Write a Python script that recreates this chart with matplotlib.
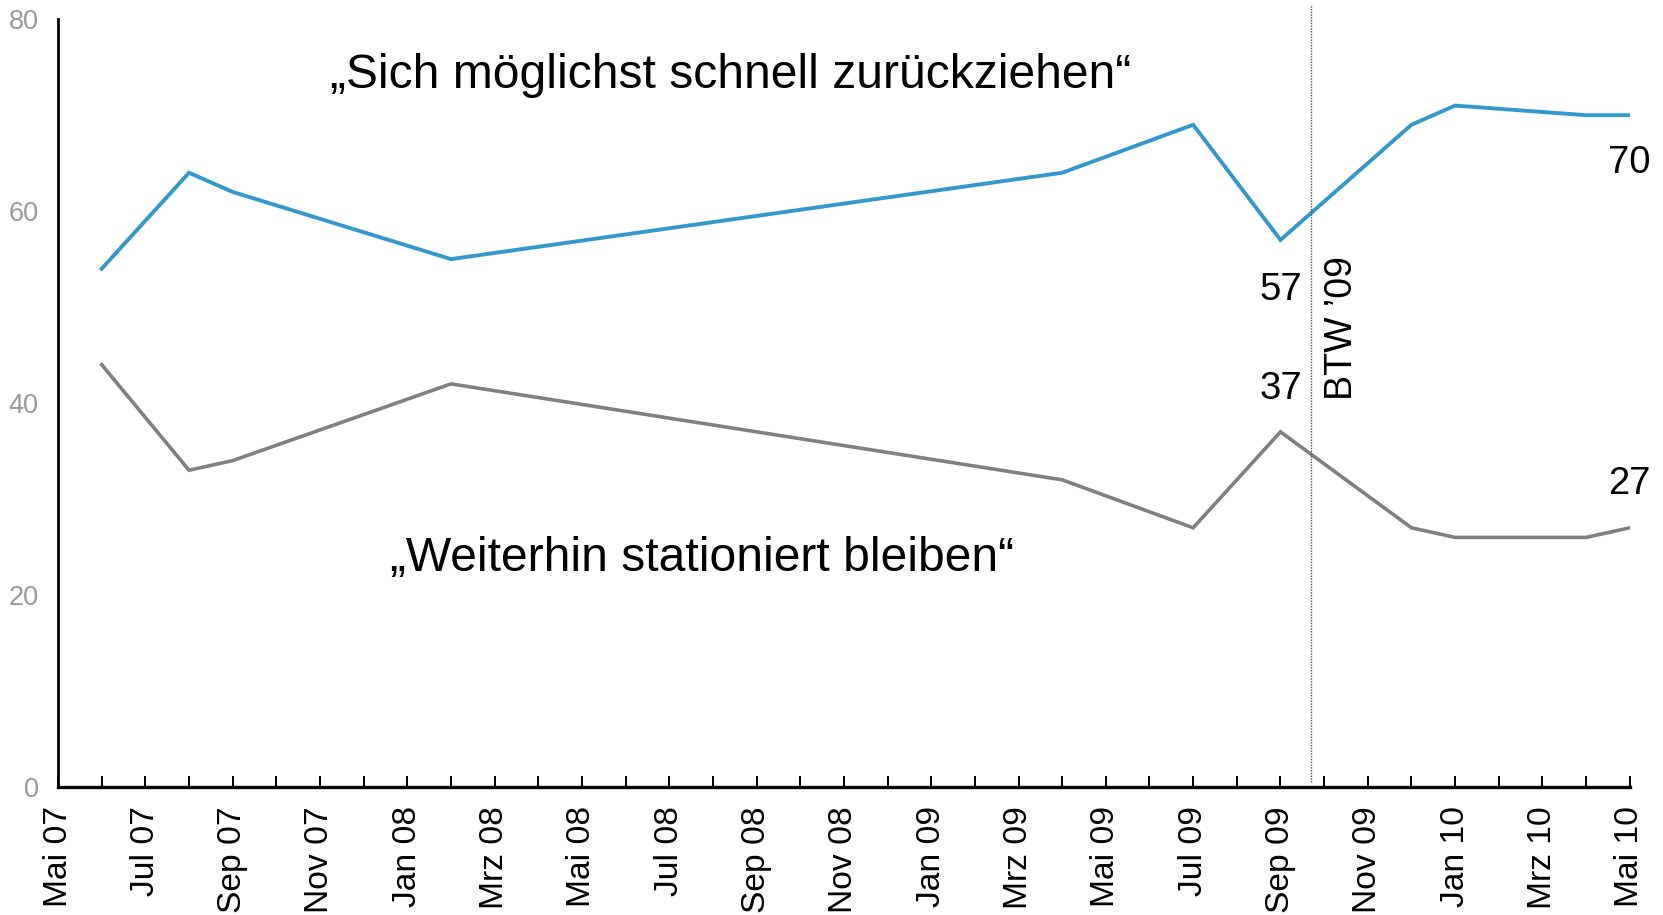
import matplotlib
matplotlib.use("Agg")
import matplotlib.pyplot as plt

plt.rcParams["font.family"] = ["Liberation Sans", "DejaVu Sans"]

# survey dates (year-month) and shares in percent
survey_dates = ["2007-06", "2007-08", "2007-09", "2008-02", "2009-04", "2009-07",
                "2009-09", "2009-12", "2010-01", "2010-04", "2010-05"]
withdraw = [54, 64, 62, 55, 64, 69, 57, 69, 71, 70, 70]
stay = [44, 33, 34, 42, 32, 27, 37, 27, 26, 26, 27]

month_names = ["Jan", "Feb", "Mrz", "Apr", "Mai", "Jun", "Jul", "Aug", "Sep", "Okt", "Nov", "Dez"]
start_year, start_month = 2007, 5
n_months = 36
btw_pos = 28.7  # Bundestagswahl 2009


def month_index(s):
    y, m = map(int, s.split("-"))
    return (y - start_year) * 12 + m - start_month


x = [month_index(d) for d in survey_dates]

tick_pos = list(range(n_months + 1))
tick_labels = []
for i in tick_pos:
    m = (start_month - 1 + i) % 12
    y = start_year + (start_month - 1 + i) // 12
    tick_labels.append(f"{month_names[m]} {y % 100:02d}")

fig = plt.figure(figsize=(16.63, 9.15), dpi=100)
ax = fig.add_axes([0.0349, 0.140, 0.980 - 0.0349, 0.979 - 0.140])

blue = "#3399cc"
grey = "#808080"
ax.plot(x, withdraw, color=blue, lw=2.8, solid_joinstyle="miter")
ax.plot(x, stay, color=grey, lw=2.6, solid_joinstyle="miter")

ax.set_xlim(0, n_months)
ax.set_ylim(0, 80)
ax.set_yticks([0, 20, 40, 60, 80])
ax.tick_params(axis="y", length=0, pad=14, labelsize=19.5, labelcolor="#999999")

ax.set_xticks(tick_pos[::2])
ax.set_xticklabels(tick_labels[::2], rotation=90, fontsize=24.2)
ax.set_xticks(tick_pos[1::2], minor=True)
ax.tick_params(axis="x", which="both", direction="in", length=8, width=1.4, pad=14)

for side in ("top", "right"):
    ax.spines[side].set_visible(False)
ax.spines["left"].set_linewidth(2)
ax.spines["bottom"].set_linewidth(2.4)

ax.plot([btw_pos, btw_pos], [0.5, 81.5], color="#555555", lw=1, ls=(0, (1, 1)), clip_on=False)
ax.text(btw_pos + 0.72, 47.8, "BTW \u201909", rotation=90, ha="center", va="center", fontsize=27)

i_sep = survey_dates.index("2009-09")
ax.text(x[i_sep], withdraw[i_sep] - 5.25, str(withdraw[i_sep]), ha="center", va="center", fontsize=27.5)
ax.text(x[i_sep], stay[i_sep] + 4.45, str(stay[i_sep]), ha="center", va="center", fontsize=27.5)
ax.text(x[-1], withdraw[-1] - 4.95, str(withdraw[-1]), ha="center", va="center", fontsize=27.5)
ax.text(x[-1], stay[-1] + 4.55, str(stay[-1]), ha="center", va="center", fontsize=27.5)

ax.text(15.4, 74.15, "\u201eSich möglichst schnell zurückziehen\u201c", ha="center", va="center", fontsize=34.6)
ax.text(14.75, 23.85, "\u201eWeiterhin stationiert bleiben\u201c", ha="center", va="center", fontsize=34.6)

fig.savefig("out.png", dpi=100)
